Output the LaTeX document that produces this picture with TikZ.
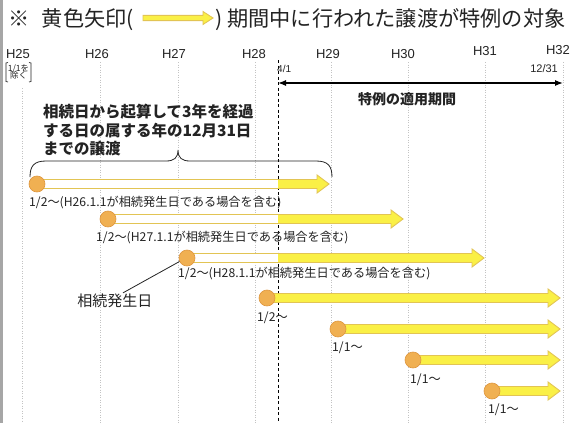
\documentclass[tikz,border=0pt]{standalone}
\usepackage{fontspec}
\setmainfont{Noto Sans CJK JP}
\newfontfamily\lat{Liberation Sans}
\usetikzlibrary{arrows.meta}
\definecolor{yelF}{RGB}{250,240,70}
\definecolor{yelD}{RGB}{226,196,84}
\definecolor{orF}{RGB}{240,176,82}
\definecolor{orD}{RGB}{222,150,62}
\definecolor{gridc}{RGB}{195,195,195}
\definecolor{txt}{RGB}{35,35,35}
\newcommand\YArrow[6]{%
  \pgfmathsetmacro\YAa{#3-#4}\pgfmathsetmacro\YAb{#3+#4}%
  \pgfmathsetmacro\YAc{#3-#5}\pgfmathsetmacro\YAd{#3+#5}%
  \pgfmathsetmacro\YAh{#2-#6}%
  \draw[yarrow] (#1,\YAa) -- (\YAh,\YAa) -- (\YAh,\YAc) -- (#2,#3) -- (\YAh,\YAd) -- (\YAh,\YAb) -- (#1,\YAb) -- cycle;}
\newcommand\WShaft[3]{% start, end, y
  \pgfmathsetmacro\YAa{#3-3.6}\pgfmathsetmacro\YAb{#3+3.6}%
  \fill[white] (#1,\YAa) rectangle (#2,\YAb);}
\begin{document}
\begin{tikzpicture}[x=1pt,y=-1pt,
  yarrow/.style={fill=yelF,draw=yelD,line width=0.9pt,line join=miter},
  dot/.style={circle,fill=orF,draw=orD,line width=0.6pt,minimum size=16pt,inner sep=0pt},
  grid/.style={gridc,line width=0.7pt,dash pattern=on 1.2pt off 1.3pt},
  yr/.style={font=\lat\fontsize{13}{13}\selectfont,text=txt,inner sep=0pt},
  rowlbl/.style={font=\fontsize{12.2}{13}\selectfont,text=txt,inner sep=0pt,anchor=west},
  ttl/.style={font=\fontsize{21.2}{22}\selectfont,text=txt,inner sep=0pt,anchor=west},
  every node/.style={text=txt}]
\useasboundingbox (0,0) rectangle (574,423);
\fill[white] (0,0) rectangle (574,423);
\fill[gray!70] (0,0) rectangle (3,423);
% grid lines
\foreach \gx in {100,178,255,331,408,485,563}{\draw[grid] (\gx,62) -- (\gx,423);}
\draw[grid] (22,88) -- (22,423);
\draw[black,line width=0.9pt,dash pattern=on 3pt off 2.5pt] (278,60) -- (278,421);
% title
\node[ttl] (t1) at (8,20) {※\hspace{12.5pt}黄色矢印(};
\YArrow{143}{213}{18}{2.6}{6.5}{10}
\node[ttl] (t2) at (215,20) {)\hspace{5pt}期間中に行われた譲渡が特例の対象};
% years
\node[yr] (y25) at (18,54) {H25};
\node[yr] (y26) at (97,54) {H26};
\node[yr] (y27) at (174,54) {H27};
\node[yr] (y28) at (254,54) {H28};
\node[yr] (y29) at (328,54) {H29};
\node[yr] (y30) at (403,54) {H30};
\node[yr] (y31) at (485,51) {H31};
\node[yr] (y32) at (558,50) {H32};
% bracket note
\node[inner sep=0pt,font=\fontsize{8.5}{9}\selectfont,align=center] (ex) at (18.5,72) {1/1を\\[-1.5pt]除く};
\draw[txt,line width=0.7pt] (8,62.5) -- (6,63) -- (6,81.5) -- (8,82);
\draw[txt,line width=0.7pt] (29,62.5) -- (31,63) -- (31,81.5) -- (29,82);
% application period
\node[anchor=south west,inner sep=0pt,font=\lat\fontsize{10}{10}\selectfont] (d41) at (277,73) {4/1};
\node[anchor=south east,inner sep=0pt,font=\lat\fontsize{11}{11}\selectfont] (d1231) at (558,73) {12/31};
\coordinate (pa) at (278,83);
\coordinate (pb) at (563,83);
\draw[black,line width=1.3pt,{Latex[length=8pt,width=6pt]}-{Latex[length=8pt,width=6pt]}] (pa) -- (pb);
\node[font=\bfseries\fontsize{14}{14}\selectfont,inner sep=0pt] (tok) at (407,99) {特例の適用期間};
% explanation
\node[anchor=north west,inner sep=0pt,align=left,font=\bfseries\fontsize{15.5}{18.5}\selectfont] (expl) at (43,104) {相続日から起算して3年を経過\\する日の属する年の12月31日\\までの譲渡};
\draw[txt,line width=0.8pt] (30,177) .. controls (30,166) and (34,161) .. (46,161) -- (166,161) .. controls (174,161) and (178,158) .. (178,150) .. controls (178,158) and (182,161) .. (190,161) -- (316,161) .. controls (328,161) and (332,166) .. (332,177);
% rows
\YArrow{37}{329}{184}{4.5}{9}{12}
\WShaft{37}{278}{184}
\node[dot] (c1) at (37,184) {};
\node[rowlbl] (l1) at (29,203) {1/2～(H26.1.1が相続発生日である場合を含む)};
\YArrow{108}{403}{219}{4.5}{9}{12}
\WShaft{108}{278}{219}
\node[dot] (c2) at (108,219) {};
\node[rowlbl] (l2) at (96,238) {1/2～(H27.1.1が相続発生日である場合を含む)};
\YArrow{187}{484}{258}{4.5}{9}{12}
\WShaft{187}{278}{258}
\node[dot] (c3) at (187,258) {};
\node[rowlbl] (l3) at (178,274) {1/2～(H28.1.1が相続発生日である場合を含む)};
\YArrow{267}{560}{298}{4.5}{9}{12}
\node[dot] (c4) at (267,298) {};
\node[rowlbl] (l4) at (257,318) {1/2～};
\YArrow{338}{560}{329}{4.5}{9}{12}
\node[dot] (c5) at (338,329) {};
\node[rowlbl] (l5) at (332,348) {1/1～};
\YArrow{413}{560}{360}{4.5}{9}{12}
\node[dot] (c6) at (413,360) {};
\node[rowlbl] (l6) at (410,380) {1/1～};
\YArrow{492}{560}{391}{4.5}{9}{12}
\node[dot] (c7) at (492,391) {};
\node[rowlbl] (l7) at (488,410) {1/1～};
% inheritance date
\node[font=\fontsize{15}{15}\selectfont,inner sep=1pt] (inh) at (115,301) {相続発生日};
\draw[txt,line width=0.8pt] ([xshift=8pt]inh.north) -- (c3.205);
\end{tikzpicture}
\end{document}
